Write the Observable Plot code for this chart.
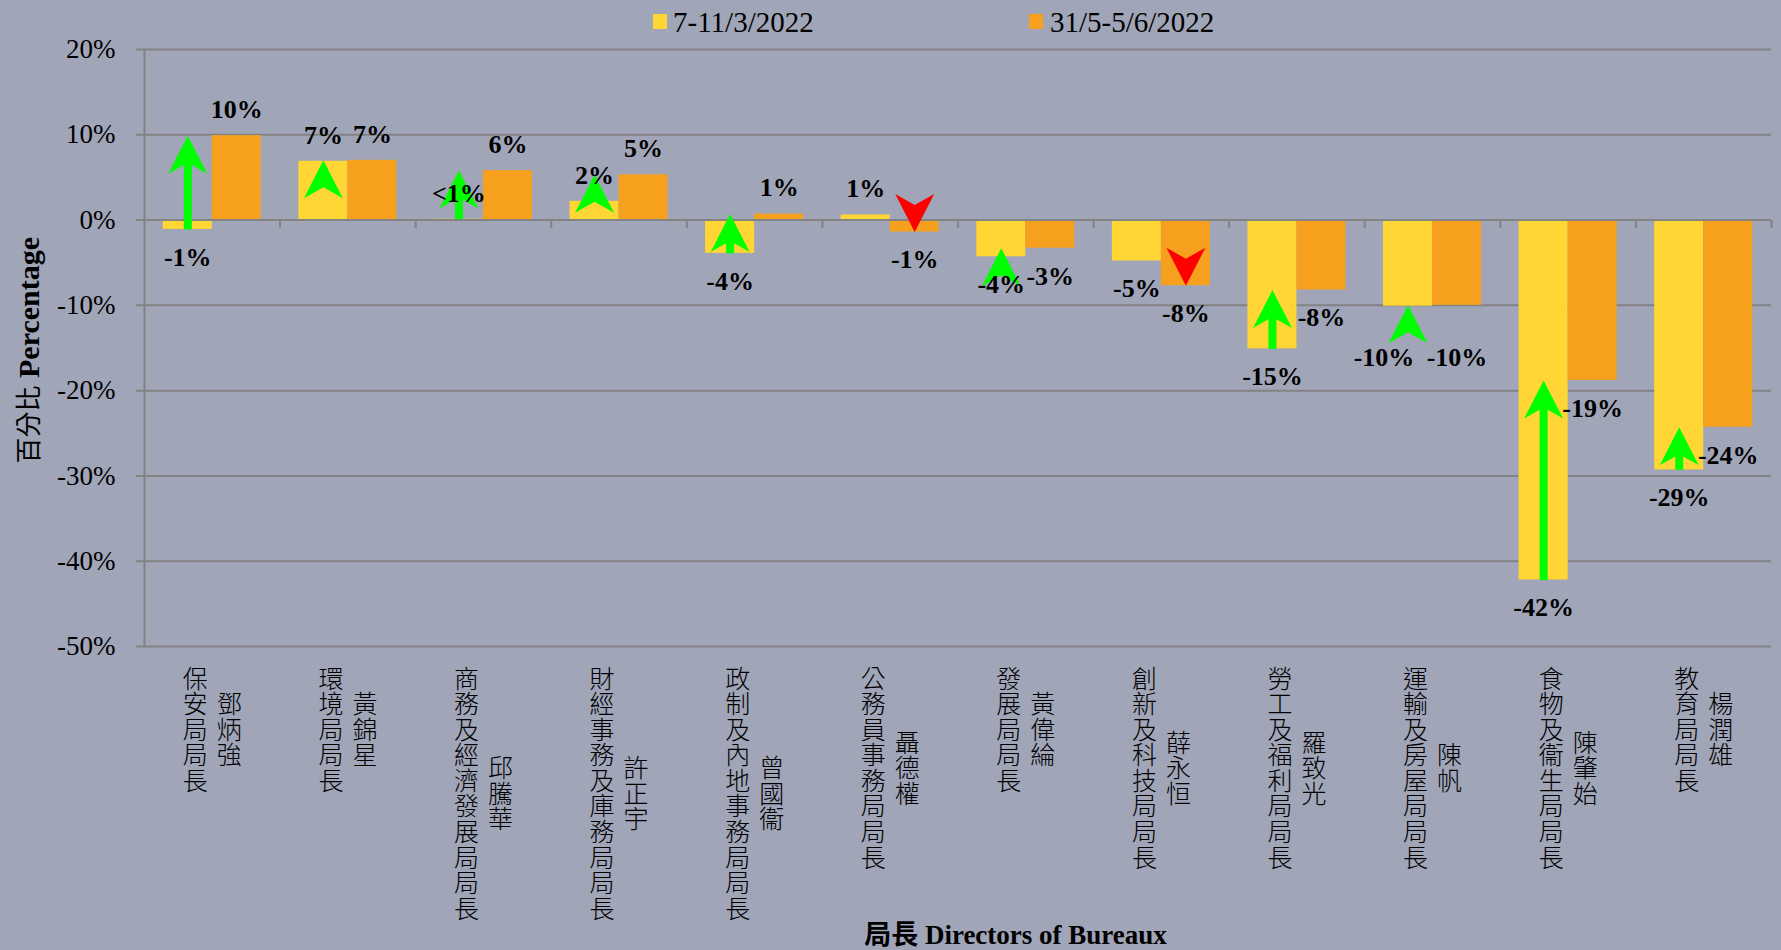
<!DOCTYPE html>
<html><head><meta charset="utf-8">
<script src="https://cdn.jsdelivr.net/npm/d3@7"></script>
<script src="https://cdn.jsdelivr.net/npm/@observablehq/plot@0.6"></script>
<style>
html,body{margin:0;padding:0;background:#a0a5b8;width:1781px;height:950px;overflow:hidden;}
#wrap{position:relative;width:1781px;height:950px;}
.lg{position:absolute;font-family:'Liberation Serif',serif;font-size:29px;line-height:29px;color:#000;white-space:nowrap;}
.sw{position:absolute;width:14px;height:15px;}
g[aria-description="vertical"] text{writing-mode:vertical-rl;text-orientation:upright;letter-spacing:0.6px;}
</style></head><body>
<div id="wrap"></div>
<script>
// ---- data ----
const bureaus = ["保安局局長","環境局局長","商務及經濟發展局局長","財經事務及庫務局局長","政制及內地事務局局長","公務員事務局局長","發展局局長","創新及科技局局長","勞工及福利局局長","運輸及房屋局局長","食物及衞生局局長","教育局局長"];
const directors = ["鄧炳強","黃錦星","邱騰華","許正宇","曾國衞","聶德權","黃偉綸","薛永恒","羅致光","陳帆","陳肇始","楊潤雄"];
const march2022 = [-1.1, 6.9, 0.1, 2.2, -3.9, 0.6, -4.3, -4.8, -15.1, -10.1, -42.2, -29.3];
const june2022 = [9.9, 7.0, 5.8, 5.3, 0.7, -1.4, -3.3, -7.7, -8.2, -10.0, -18.8, -24.3];
const yTicks = [20, 10, 0, -10, -20, -30, -40, -50];
const seriesNames = ["7-11/3/2022", "31/5-5/6/2022"];
const seriesColors = ["#ffd633", "#f6a01e"];
const yTitleCJK = "百分比";
const yTitleEN = "Percentage";
const xTitle = "局長 Directors of Bureaux";

// ---- styles ----
const grid = "#838383";
const up = "#00ff00", down = "#ff0000";
const serif = "'Liberation Serif', 'Noto Sans CJK TC', serif";
const cjk = "'Noto Sans CJK TC', sans-serif";
const halfBar = 24.5, halfStep = 67.8;

const rows = bureaus.map((b, i) => ({bureau: b, director: directors[i], march: march2022[i], june: june2022[i]}));
const fmt = v => Math.round(v) === 0 ? "<1%" : Math.round(v) + "%";
const maxLen = d3.max(bureaus, b => b.length);

const upHead = {draw(c) { c.moveTo(0, 0); c.lineTo(19.5, 38); c.lineTo(0, 27); c.lineTo(-19.5, 38); c.closePath(); }};
const downHead = {draw(c) { c.moveTo(0, 0); c.lineTo(19.5, -38); c.lineTo(0, -27); c.lineTo(-19.5, -38); c.closePath(); }};
const tickSym = {draw(c) { c.moveTo(0, 0); c.lineTo(0, 8); }};

const rising = d => d.june > d.march;
const falling = d => d.june < d.march;
// an up-arrow head hanging below a negative bar that barely changed: its labels move clear of the head
const crowded = d => rising(d) && d.march < 0 && (d.june - d.march) < 0.5;
const plain = d => !crowded(d);

const labelStyle = {fontWeight: "bold", fontSize: 26, fill: "black"};

const chart = Plot.plot({
  width: 1781, height: 950,
  marginLeft: 144, marginRight: 10, marginTop: 49, marginBottom: 304,
  style: {background: "#a0a5b8", color: "black", fontFamily: serif, fontSize: "27px"},
  x: {type: "band", domain: bureaus, paddingInner: 0.277, paddingOuter: 0.1385, round: false, axis: null},
  y: {domain: d3.extent(yTicks), ticks: yTicks, tickFormat: d => d + "%", tickSize: 0, tickPadding: 29, label: null},
  marks: [
    Plot.ruleY(yTicks, {stroke: grid, strokeWidth: 2, insetLeft: -8}),
    Plot.barY(rows, {x: "bureau", y1: 0, y2: "march", fill: seriesColors[0], insetRight: halfBar * 2}),
    Plot.barY(rows, {x: "bureau", y1: 0, y2: "june", fill: seriesColors[1], insetLeft: halfBar * 2}),
    Plot.ruleY([0], {stroke: grid, strokeWidth: 2, insetLeft: -8}),
    Plot.ruleX([bureaus[0]], {x: d => d, y1: d3.min(yTicks), y2: d3.max(yTicks), dx: -halfStep, stroke: grid, strokeWidth: 2}),
    Plot.dot(bureaus, {x: d => d, y: 0, dx: halfStep, symbol: tickSym, fill: "none", stroke: grid, strokeWidth: 2}),
    // arrows: shaft + head
    Plot.arrow(rows, {filter: rising, x1: "bureau", x2: "bureau", y1: "march", y2: "june", dx: -halfBar, stroke: up, strokeWidth: 8, headLength: 0, insetEnd: 25, strokeLinecap: "butt"}),
    Plot.arrow(rows, {filter: falling, x1: "bureau", x2: "bureau", y1: "march", y2: "june", dx: halfBar, stroke: down, strokeWidth: 8, headLength: 0, insetEnd: 25, strokeLinecap: "butt"}),
    Plot.dot(rows, {filter: rising, x: "bureau", y: "june", dx: -halfBar, symbol: upHead, fill: up, stroke: "none"}),
    Plot.dot(rows, {filter: falling, x: "bureau", y: "june", dx: halfBar, symbol: downHead, fill: down, stroke: "none"}),
    // value labels
    Plot.text(rows, {filter: d => plain(d) && d.march >= 0, x: "bureau", y: "march", text: d => fmt(d.march), dx: -halfBar, dy: -26, ...labelStyle}),
    Plot.text(rows, {filter: d => plain(d) && d.march < 0, x: "bureau", y: "march", text: d => fmt(d.march), dx: -halfBar, dy: 28, ...labelStyle}),
    Plot.text(rows, {filter: d => plain(d) && d.june >= 0, x: "bureau", y: "june", text: d => fmt(d.june), dx: halfBar, dy: -26, ...labelStyle}),
    Plot.text(rows, {filter: d => plain(d) && d.june < 0, x: "bureau", y: "june", text: d => fmt(d.june), dx: halfBar, dy: 28, ...labelStyle}),
    Plot.text(rows, {filter: crowded, x: "bureau", y: "march", text: d => fmt(d.march), dx: -48.5, dy: 51, ...labelStyle}),
    Plot.text(rows, {filter: crowded, x: "bureau", y: "june", text: d => fmt(d.june), dx: halfBar, dy: 52, ...labelStyle}),
    // category labels (vertical writing)
    Plot.text(rows, {x: "bureau", text: "bureau", frameAnchor: "bottom", textAnchor: "start", lineAnchor: "bottom", dx: -17, dy: 19, fontSize: 25, fontFamily: cjk, fontWeight: 300, fill: "black", ariaDescription: "vertical"}),
    Plot.text(rows, {x: "bureau", text: d => d.director + "\u3000".repeat(maxLen - d.bureau.length), frameAnchor: "bottom", textAnchor: "middle", lineAnchor: "bottom", dx: 17, dy: 147, fontSize: 25, fontFamily: cjk, fontWeight: 300, fill: "black", ariaDescription: "vertical"}),
    // axis titles
    Plot.text([yTitleCJK], {text: d => d, frameAnchor: "left", rotate: -90, textAnchor: "end", lineAnchor: "middle", dx: -115, dy: 37.5, fontSize: 26, fontFamily: cjk, fill: "black"}),
    Plot.text([yTitleEN], {text: d => d, frameAnchor: "left", rotate: -90, textAnchor: "start", lineAnchor: "middle", dx: -115, dy: 30, fontSize: 30, fontWeight: "bold", fill: "black"}),
    Plot.text([xTitle], {text: d => d, frameAnchor: "bottom", lineAnchor: "middle", dx: 57.5, dy: 289, fontSize: 27, fontWeight: "bold", fill: "black"})
  ]
});

const wrap = document.getElementById("wrap");
wrap.appendChild(chart);
// legend
const legendPos = [[653, 673], [1029, 1050]];
seriesNames.forEach((name, i) => {
  const sw = document.createElement("div");
  sw.className = "sw";
  sw.style.left = legendPos[i][0] + "px"; sw.style.top = "14px"; sw.style.background = seriesColors[i];
  const t = document.createElement("div");
  t.className = "lg";
  t.style.left = legendPos[i][1] + "px"; t.style.top = "8px";
  t.textContent = name;
  wrap.appendChild(sw); wrap.appendChild(t);
});
chart.style.position = "absolute"; chart.style.left = "0"; chart.style.top = "0";
</script>
</body></html>
